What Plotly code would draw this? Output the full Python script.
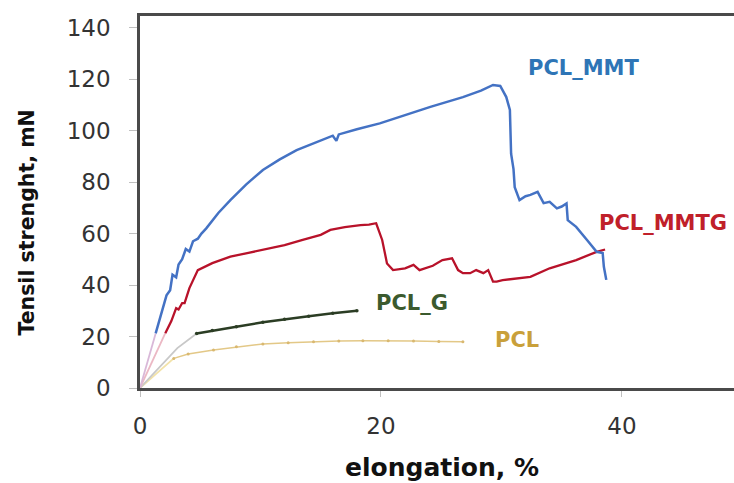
import plotly.graph_objects as go

# ---------------- data ----------------
mmt_x = [1.3, 1.6, 1.9, 2.2, 2.5, 2.7, 3.0, 3.2, 3.5, 3.8, 4.1, 4.4, 4.8, 5.1, 5.5,
         6.5, 7.5, 8.8, 10.2, 11.6, 13.0, 14.6, 16.0, 16.3, 16.5, 18.0, 19.9, 22.0,
         24.1, 26.8, 28.3, 29.3, 29.9, 30.4, 30.7, 30.8, 31.0, 31.1, 31.5, 32.0,
         32.4, 33.0, 33.5, 34.0, 34.6, 35.0, 35.4, 35.5, 36.2, 37.1, 37.6, 37.9,
         38.4, 38.5, 38.7]
mmt_y = [21.2, 26, 31, 36, 38, 44, 43, 48, 50, 54, 53, 57, 58, 60, 62,
         68, 73, 79, 84.7, 88.8, 92.4, 95.5, 98, 96, 98.5, 100.5, 102.8, 106,
         109.2, 113, 115.5, 117.7, 117.3, 113, 108, 91, 85, 78, 73, 74.5,
         75, 76.2, 71.8, 72.3, 69.8, 70.5, 71.7, 65.2, 62.6, 57.5, 54.9, 52.9,
         52.4, 47.1, 42]

mmtg_x = [2.1, 2.6, 3.0, 3.2, 3.5, 3.7, 4.1, 4.5, 4.8, 6.0, 7.5, 9.0, 10.8, 12.0,
          13.5, 15.0, 15.8, 17.0, 18.3, 19.0, 19.6, 20.1, 20.5, 21.0, 22.0, 22.7,
          23.2, 24.3, 25.1, 25.9, 26.4, 26.8, 27.4, 27.9, 28.5, 28.9, 29.3, 29.6,
          30.1, 31.3, 32.4, 34.0, 36.2, 37.9, 38.6]
mmtg_y = [21.3, 26, 31, 30.5, 33, 33, 38.8, 43, 45.8, 48.5, 51, 52.5, 54.2, 55.5,
          57.5, 59.5, 61.4, 62.5, 63.3, 63.5, 64, 57.5, 48.4, 45.8, 46.5, 47.8,
          45.8, 47.5, 49.7, 50.4, 45.8, 44.6, 44.6, 45.8, 44.6, 45.8, 41.3, 41.3,
          41.9, 42.6, 43.2, 46.5, 49.7, 52.9, 53.8]

g_x = [4.7, 6.0, 8.0, 10.2, 12.0, 14.0, 16.0, 18.0]
g_y = [21.2, 22.3, 23.8, 25.5, 26.7, 27.9, 29.0, 30.0]

pcl_x = [2.8, 4.0, 6.1, 8.0, 10.2, 12.3, 14.4, 16.5, 18.5, 20.6, 22.7, 24.8, 26.8]
pcl_y = [11.5, 13.2, 14.8, 16.0, 17.1, 17.6, 18.0, 18.3, 18.4, 18.4, 18.3, 18.1, 18.0]

# initial (pale) loading segments from the origin
mmt0_x, mmt0_y = [0, 1.3], [0, 21.2]
mmtg0_x, mmtg0_y = [0, 2.1], [0, 21.3]
g0_x, g0_y = [0, 3.1, 4.7], [0, 15.5, 21.2]
pcl0_x, pcl0_y = [0, 2.8], [0, 11.5]

x_ticks = [0, 20, 40]
y_ticks = [0, 20, 40, 60, 80, 100, 120, 140]

labels = ["PCL_MMT", "PCL_MMTG", "PCL_G", "PCL"]
label_x = [36.8, 43.4, 22.6, 31.3]
label_y = [124.3, 64.1, 33.0, 18.6]
label_colors = ["#2E75B6", "#C0202A", "#3B5A2E", "#C9A03A"]

# ---------------- figure ----------------
fig = go.Figure()

for xs, ys, c in [(pcl0_x, pcl0_y, "#F2E2A8"), (g0_x, g0_y, "#C8C8C8"),
                  (mmtg0_x, mmtg0_y, "#EBB8C4"), (mmt0_x, mmt0_y, "#D9B8D8")]:
    fig.add_trace(go.Scatter(x=xs, y=ys, mode="lines",
                             line=dict(color=c, width=1.8), hoverinfo="skip"))

fig.add_trace(go.Scatter(x=pcl_x, y=pcl_y, mode="lines+markers", name="PCL",
                         line=dict(color="#E3C887", width=1.5),
                         marker=dict(size=3, color="#D9B870")))
fig.add_trace(go.Scatter(x=g_x, y=g_y, mode="lines+markers", name="PCL_G",
                         line=dict(color="#2B3D24", width=2.5),
                         marker=dict(size=3.5, color="#2B3D24")))
fig.add_trace(go.Scatter(x=mmtg_x, y=mmtg_y, mode="lines", name="PCL_MMTG",
                         line=dict(color="#B8122A", width=2.3)))
fig.add_trace(go.Scatter(x=mmt_x, y=mmt_y, mode="lines", name="PCL_MMT",
                         line=dict(color="#4472C4", width=2.5)))

for t, lx, ly, c in zip(labels, label_x, label_y, label_colors):
    fig.add_annotation(x=lx, y=ly, xref="x", yref="y", text=t, showarrow=False,
                       font=dict(family="DejaVu Sans", size=21, color=c, weight="bold"),
                       xanchor="center", yanchor="middle")

fig.add_annotation(x=-0.19, y=0.445, xref="paper", yref="paper",
                   text="<b>Tensil strenght, mN</b>", textangle=-90, showarrow=False,
                   font=dict(family="DejaVu Sans", size=20.5, color="#111111"),
                   xanchor="center", yanchor="middle")
fig.add_annotation(x=0.508, y=-0.215, xref="paper", yref="paper",
                   text="<b>elongation, %</b>", showarrow=False,
                   font=dict(family="DejaVu Sans", size=25, color="#111111"),
                   xanchor="center", yanchor="middle")

fig.update_layout(
    width=734, height=483,
    margin=dict(l=140, r=0, t=16, b=95, autoexpand=False),
    paper_bgcolor="white", plot_bgcolor="white",
    showlegend=False,
    font=dict(family="DejaVu Sans", size=23, color="#333333"),
)
fig.update_xaxes(range=[0, 49.3], tickvals=x_ticks, showgrid=False, zeroline=False,
                 showline=True, linecolor="#4a4a4a", linewidth=2.5, mirror=True,
                 ticks="outside", ticklen=6, tickcolor="#c0c0c0", tickwidth=1,
                 ticklabelstandoff=10, automargin=False)
fig.update_yaxes(range=[0, 144.5], tickvals=y_ticks, showgrid=False, zeroline=False,
                 showline=True, linecolor="#4a4a4a", linewidth=2.5, mirror=False,
                 ticks="outside", ticklen=8, tickcolor="#c0c0c0", tickwidth=1,
                 ticklabelstandoff=14, automargin=False)

fig.write_html("out.html", config={"displayModeBar": False},
               post_script="document.body.style.margin='0';document.body.style.padding='0';document.body.style.overflow='hidden';")
